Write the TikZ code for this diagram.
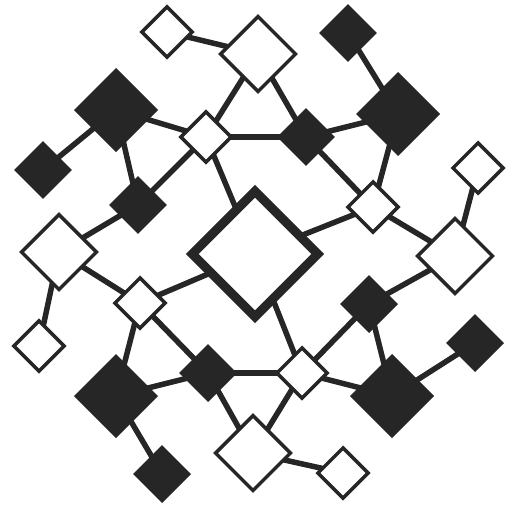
\documentclass[tikz,border=0pt]{standalone}
\usetikzlibrary{backgrounds}
\definecolor{ink}{RGB}{38,38,38}
\begin{document}
\begin{tikzpicture}[x=1pt,y=-1pt,
  dbase/.style={rectangle,rotate=45,inner sep=0pt,outer sep=0pt},
  wsmall/.style={dbase,draw=ink,fill=white,line width=3.5pt,minimum size=35.4pt},
  wmed/.style={dbase,draw=ink,fill=white,line width=3.5pt,minimum size=53pt},
  bsmall/.style={dbase,fill=ink,minimum size=41pt},
  bbig/.style={dbase,fill=ink,minimum size=59.4pt},
  hub/.style={dbase,draw=ink,fill=white,line width=9pt,minimum size=88.6pt},
  link/.style={draw=ink,line width=5.5pt}]
\useasboundingbox (0,0) rectangle (513,511);
% nodes
\node[wsmall] (A) at (167,32) {};
\node[wmed]   (B) at (258,54) {};
\node[bsmall] (C) at (348,33) {};
\node[bbig]   (D) at (116,110) {};
\node[wsmall] (E) at (206,137) {};
\node[bsmall] (F) at (306,137) {};
\node[bbig]   (G) at (398,114) {};
\node[bsmall] (H) at (43,170) {};
\node[bsmall] (I) at (138,205) {};
\node[wsmall] (J) at (373,207) {};
\node[wsmall] (K) at (478,168) {};
\node[wmed]   (L) at (59,252) {};
\node[hub]    (M) at (255,254) {};
\node[wmed]   (N) at (455,256) {};
\node[wsmall] (O) at (140,303) {};
\node[bsmall] (P) at (369,304) {};
\node[wsmall] (Q) at (39,346) {};
\node[bbig]   (R) at (116,396) {};
\node[bsmall] (S) at (208,373) {};
\node[wsmall] (T) at (302,373) {};
\node[bbig]   (U) at (392,396) {};
\node[bsmall] (V) at (475,343) {};
\node[bsmall] (W) at (162,474) {};
\node[wmed]   (X) at (253,453) {};
\node[wsmall] (Y) at (343,473) {};
% connectors
\begin{scope}[on background layer]
\foreach \a/\b in {A/B,C/G,D/H,D/E,D/I,E/B,E/F,E/M,I/E,I/L,L/Q,L/O,O/M,O/R,O/S,R/S,R/W,S/T,S/X,T/M,T/P,T/U,T/X,P/N,P/U,U/V,X/Y,N/K,J/N,J/M,J/F,J/G,F/G,F/B}
  \draw[link] (\a.center) -- (\b.center);
\end{scope}
\end{tikzpicture}
\end{document}
